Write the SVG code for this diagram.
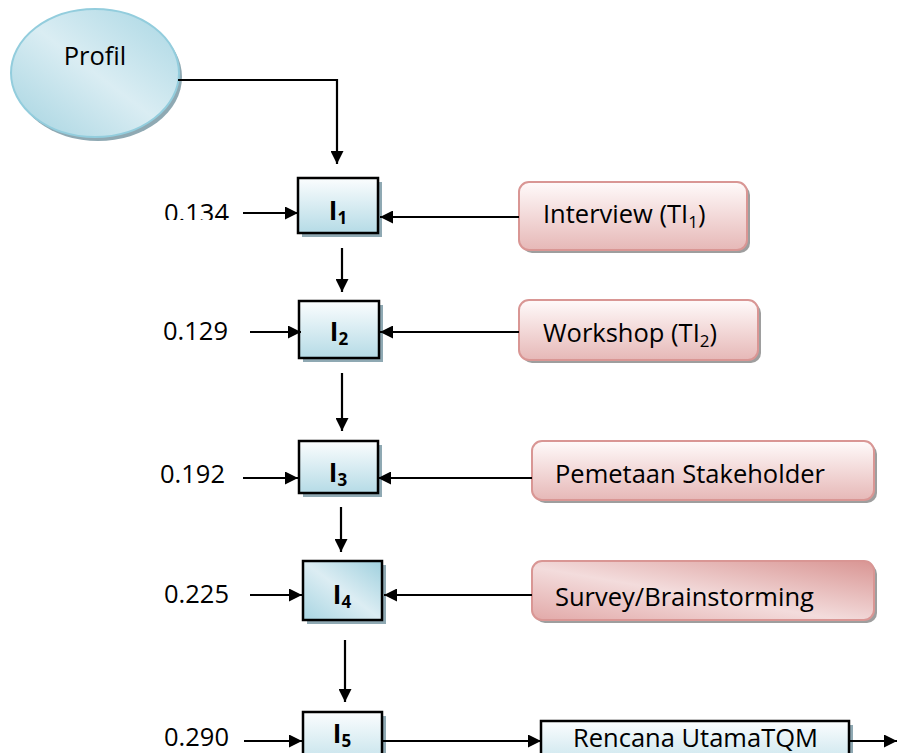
<svg xmlns="http://www.w3.org/2000/svg" width="898" height="753" viewBox="0 0 898 753">
<style>
text{font-family:"Open Sans","Liberation Sans",sans-serif;font-size:25.5px;fill:#000}
.lbl{font-weight:bold;font-size:26px}
.sub{font-size:17px}
.conn{stroke:#000;stroke-width:2.2;fill:none;marker-end:url(#ah)}
.bbox{fill:url(#gBlue);stroke:#000;stroke-width:2.5}
.bsh{fill:#8fa9b3}
.pbox{fill:url(#gPink);stroke:#d99694;stroke-width:2}
.psh{fill:#9e9e9e}
</style>
<defs>
<marker id="ah" markerUnits="userSpaceOnUse" markerWidth="13" markerHeight="13" refX="13" refY="6.5" orient="auto">
<path d="M0,0 L13,6.5 L0,13 z" fill="#000"/>
</marker>
<linearGradient id="gBlue" x1="0" y1="0" x2="0" y2="1">
<stop offset="0" stop-color="#fbfdfe"/>
<stop offset="1" stop-color="#b5dbe6"/>
</linearGradient>
<linearGradient id="gBlue2" x1="0" y1="1" x2="1" y2="0">
<stop offset="0" stop-color="#a8d5e2"/>
<stop offset="0.5" stop-color="#dcedf3"/>
<stop offset="1" stop-color="#9fd0de"/>
</linearGradient>
<linearGradient id="gEll" x1="0" y1="1" x2="1" y2="0">
<stop offset="0" stop-color="#a4d3e0"/>
<stop offset="0.5" stop-color="#daedf3"/>
<stop offset="1" stop-color="#a8d6e3"/>
</linearGradient>
<linearGradient id="gPink" x1="0" y1="0" x2="0" y2="1">
<stop offset="0" stop-color="#fffafa"/>
<stop offset="1" stop-color="#e6b8b7"/>
</linearGradient>
<linearGradient id="gPink2" x1="0" y1="1" x2="1" y2="0">
<stop offset="0" stop-color="#e2a9a8"/>
<stop offset="0.45" stop-color="#f3dcdc"/>
<stop offset="1" stop-color="#d99593"/>
</linearGradient>
<clipPath id="c1"><rect x="150" y="190" width="100" height="30"/></clipPath>
</defs>

<g id="profil">
<ellipse cx="98" cy="77" rx="84" ry="64" fill="#8fa9b3"/>
<ellipse cx="95" cy="73" rx="84" ry="64" fill="url(#gEll)" stroke="#93cddd" stroke-width="2"/>
<text x="95" y="65" text-anchor="middle">Profil</text>
</g>

<g id="i1">
<rect class="bsh" x="302" y="182" width="80" height="55"/>
<rect class="bbox" x="298" y="178" width="80" height="55"/>
<text class="lbl" x="338" y="220" text-anchor="middle">I<tspan class="sub" dy="4">1</tspan></text>
</g>
<g id="i2">
<rect class="bsh" x="303" y="305" width="80" height="57"/>
<rect class="bbox" x="299" y="301" width="80" height="57"/>
<text class="lbl" x="339" y="341" text-anchor="middle">I<tspan class="sub" dy="4">2</tspan></text>
</g>
<g id="i3">
<rect class="bsh" x="303" y="445" width="79" height="52"/>
<rect class="bbox" x="299" y="441" width="79" height="52"/>
<text class="lbl" x="338" y="482" text-anchor="middle">I<tspan class="sub" dy="4">3</tspan></text>
</g>
<g id="i4">
<rect class="bsh" x="307" y="565" width="79" height="59"/>
<rect x="303" y="561" width="79" height="59" fill="url(#gBlue2)" stroke="#000" stroke-width="2.5"/>
<text class="lbl" x="342" y="604" text-anchor="middle">I<tspan class="sub" dy="4">4</tspan></text>
</g>
<g id="i5">
<rect class="bsh" x="307" y="716" width="79" height="65"/>
<rect class="bbox" x="303" y="712" width="79" height="65"/>
<text class="lbl" x="342" y="743" text-anchor="middle">I<tspan class="sub" dy="4">5</tspan></text>
</g>

<g id="interview">
<rect class="psh" x="522" y="185" width="228" height="68" rx="10"/>
<rect class="pbox" x="519" y="182" width="228" height="68" rx="10"/>
<text x="543" y="223">Interview (TI<tspan class="sub" dy="5">1</tspan><tspan dy="-5">)</tspan></text>
</g>
<g id="workshop">
<rect class="psh" x="522" y="303" width="239" height="60" rx="10"/>
<rect class="pbox" x="519" y="300" width="239" height="60" rx="10"/>
<text x="543" y="342">Workshop (TI<tspan class="sub" dy="5">2</tspan><tspan dy="-5">)</tspan></text>
</g>
<g id="pemetaan">
<rect class="psh" x="535" y="444" width="342" height="59" rx="10"/>
<rect class="pbox" x="532" y="441" width="342" height="59" rx="10"/>
<text x="555" y="483">Pemetaan Stakeholder</text>
</g>
<g id="survey">
<rect class="psh" x="535" y="564" width="342" height="59" rx="10"/>
<rect x="532" y="561" width="342" height="59" rx="10" fill="url(#gPink2)" stroke="#d99694" stroke-width="2"/>
<text x="555" y="606">Survey/Brainstorming</text>
</g>
<g id="rencana">
<rect class="bsh" x="545" y="725" width="308" height="60"/>
<rect class="bbox" x="541" y="721" width="308" height="60"/>
<text x="573" y="747">Rencana UtamaTQM</text>
</g>

<g id="w1"><text x="164" y="222" clip-path="url(#c1)">0.134</text></g>
<g id="w2"><text x="163" y="340">0.129</text></g>
<g id="w3"><text x="160" y="483">0.192</text></g>
<g id="w4"><text x="164" y="603">0.225</text></g>
<g id="w5"><text x="164" y="746">0.290</text></g>

<g id="connectors">
<path class="conn" d="M178,80 H337 V164"/>
<path class="conn" d="M243,213 H298"/>
<path class="conn" d="M519,217 H380"/>
<path class="conn" d="M342,248 V292"/>
<path class="conn" d="M250,332 H301"/>
<path class="conn" d="M519,332 H380"/>
<path class="conn" d="M342,373 V431"/>
<path class="conn" d="M243,478 H298"/>
<path class="conn" d="M532,478 H378"/>
<path class="conn" d="M341,507 V552"/>
<path class="conn" d="M250,595 H302"/>
<path class="conn" d="M532,595 H384"/>
<path class="conn" d="M345,640 V702"/>
<path class="conn" d="M244,741 H302"/>
<path class="conn" d="M382,741 H541"/>
<path class="conn" d="M849,741 H897"/>
</g>
</svg>
